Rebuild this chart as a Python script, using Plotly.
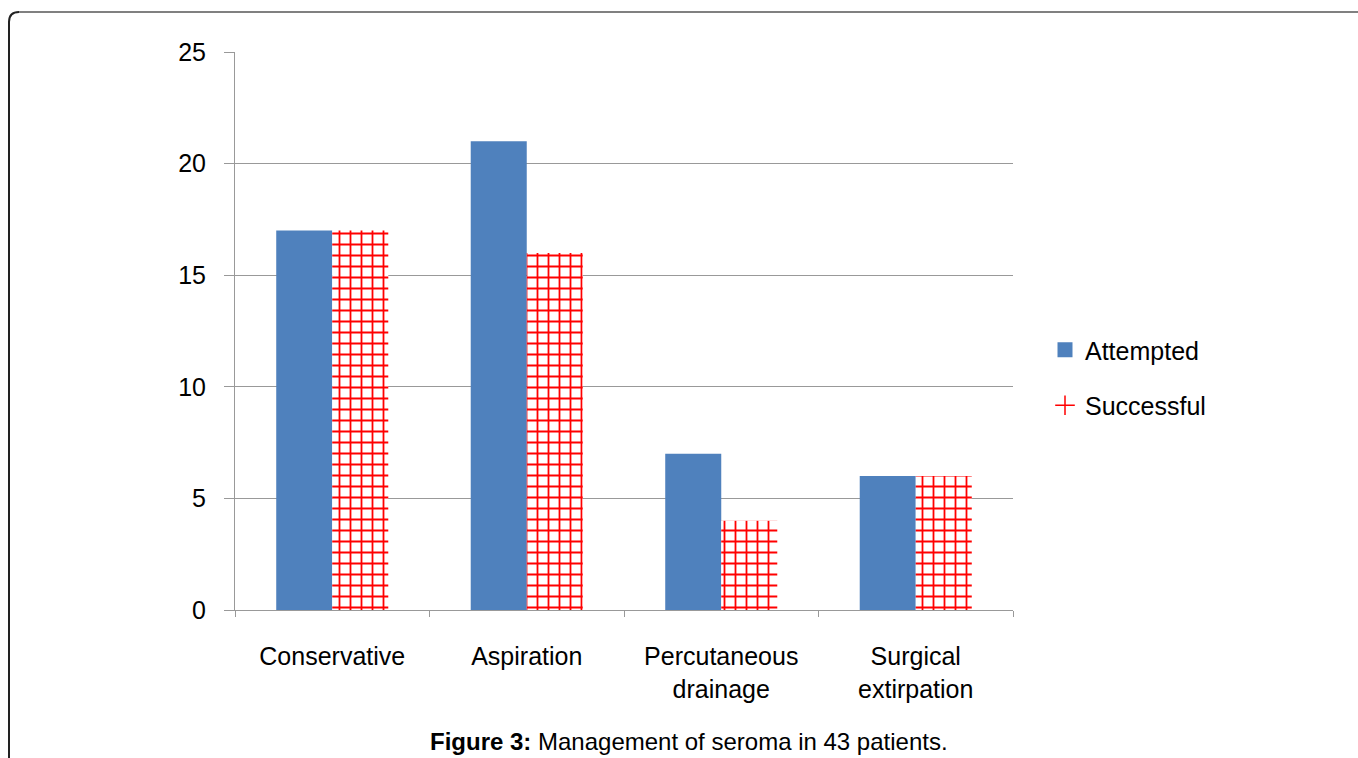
import plotly.graph_objects as go

categories = ["Conservative", "Aspiration", "Percutaneous<br>drainage", "Surgical<br>extirpation"]
attempted = [17, 21, 7, 6]
successful = [17, 16, 4, 6]
y_ticks = [0, 5, 10, 15, 20, 25]

W, H = 1358, 758
L, R, T, B = 235, 1013, 52, 610

BLUE = "#4f81bd"
RED = "#ff0000"

def px(x):
    return (x - L) / (R - L)

def py(y):
    return (B - y) / (B - T)

font = "Liberation Sans, Arial, sans-serif"

fig = go.Figure()
fig.add_trace(go.Bar(
    x=categories, y=attempted, name="Attempted",
    marker=dict(color=BLUE, line=dict(width=0)),
    showlegend=False,
))
fig.add_trace(go.Bar(
    x=categories, y=successful, name="Successful",
    marker=dict(color="white", line=dict(width=0),
                pattern=dict(shape="+", fgcolor=RED, bgcolor="white", fgopacity=1,
                             size=11, solidity=0.3, fillmode="replace")),
    showlegend=False,
))

# legend entries: solid square and red cross
fig.add_trace(go.Scatter(
    x=[None], y=[None], mode="markers", name="Attempted", legendgroup="a",
    marker=dict(symbol="square", size=15, color=BLUE),
))
fig.add_trace(go.Scatter(
    x=[None], y=[None], mode="markers", name="Successful", legendgroup="b",
    marker=dict(symbol="cross-thin", size=14, line=dict(color=RED, width=1.5)),
))

fig.update_layout(
    width=W, height=H,
    margin=dict(l=L, r=W - R, t=T, b=H - B, pad=0),
    paper_bgcolor="white", plot_bgcolor="white",
    barmode="group", bargap=0.424, bargroupgap=0,
    font=dict(family=font, size=25, color="black"),
    showlegend=True,
    legend=dict(x=px(1045), y=py(327), xanchor="left", yanchor="top",
                font=dict(size=25), traceorder="grouped", tracegroupgap=20,
                bgcolor="rgba(0,0,0,0)"),
    xaxis=dict(showline=True, linecolor="#999999", linewidth=1,
               ticks="outside", tickson="boundaries", ticklen=6, tickcolor="#999999",
               tickfont=dict(size=25), ticklabelstandoff=24, showgrid=False),
    yaxis=dict(range=[0, 25], tickvals=y_ticks, showline=True, linecolor="#999999",
               linewidth=1, ticks="outside", ticklen=10, tickcolor="#999999",
               ticklabelstandoff=13,
               showgrid=True, gridcolor="#999999", gridwidth=1,
               tickfont=dict(size=25), zeroline=False),
    annotations=[dict(
        xref="paper", yref="paper", x=px(689), y=py(741),
        xanchor="center", yanchor="middle", showarrow=False,
        text="<b>Figure 3:</b> Management of seroma in 43 patients.",
        font=dict(size=24, family=font, color="black"),
    )],
    shapes=[
        dict(type="path", xref="paper", yref="paper",
             path=f"M {px(9)},{py(758)} L {px(9)},{py(22)} Q {px(9)},{py(12)} {px(19)},{py(12)}",
             line=dict(color="#222222", width=2)),
        dict(type="line", xref="paper", yref="paper",
             x0=px(19), y0=py(12), x1=px(1358), y1=py(12),
             line=dict(color="#808080", width=2)),
    ],
)

fig.write_html("out.html")
